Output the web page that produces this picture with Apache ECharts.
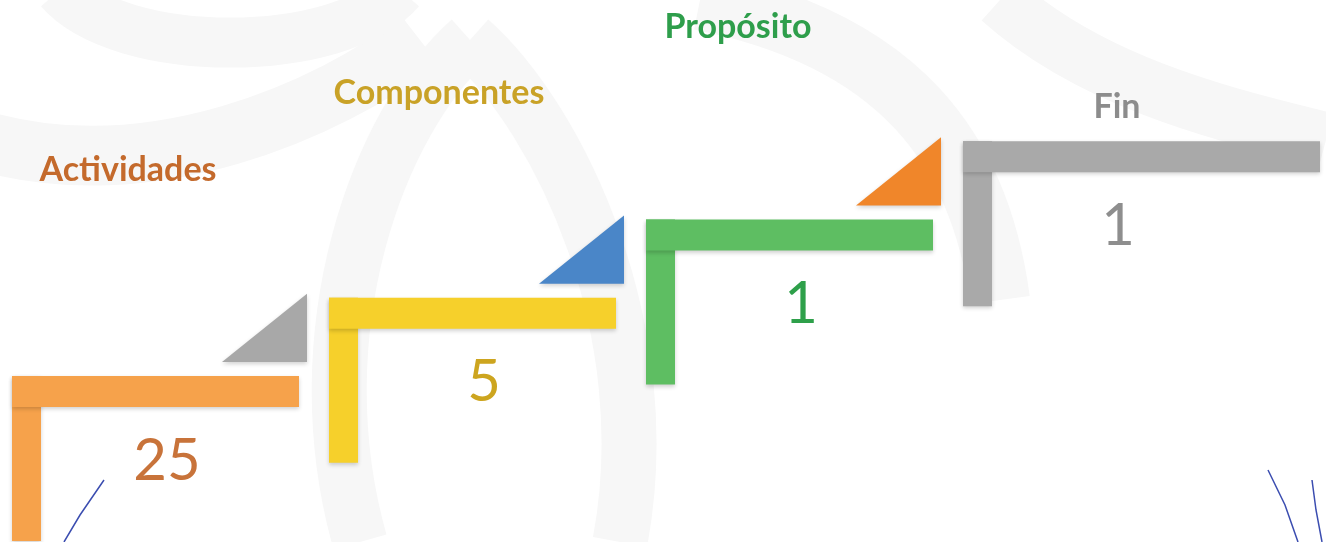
<!DOCTYPE html>
<html><head><meta charset="utf-8">
<script src="https://cdn.jsdelivr.net/npm/echarts@6/dist/echarts.min.js"></script>
<style>html,body{margin:0;padding:0;background:#fff}#c{width:1326px;height:542px}</style>
</head><body><div id="c"></div>
<script>
const categories = ['Actividades', 'Componentes', 'Propósito', 'Fin'];
const values = [25, 5, 1, 1];
const stepColors = ['#F6A24B', '#F6D02B', '#5EBE62', '#A9A9A9'];
const titleColors = ['#C46A2C', '#C9A227', '#2E9E4B', '#8C8C8C'];
const numberColors = ['#C8733A', '#CDA51F', '#2EA04A', '#8E8E8E'];
const triangleColors = ['#A8A8A8', '#4A86C8', '#F0862A'];

// layout (pixels) — styling only
const titleOffsets = [[116, -206], [110, -205], [92, -192], [154, -34]];
const T = 31, VLEN = 165;

const chart = echarts.init(document.getElementById('c'), null, {renderer: 'canvas'});
const data = categories.map((c, i) => [i, i, values[i]]);

function renderItem(params, api) {
  const i = api.value(0);
  const p = api.coord([i, api.value(1)]);
  const prev = api.coord([i - 1, api.value(1) - 1]);
  const next = api.coord([i + 1, api.value(1) + 1]);
  const last = i === categories.length - 1;
  const hlen = last ? (api.getWidth() - 6 - p[0]) : (next[0] - p[0] - 30);
  const shadow = {shadowBlur: 4, shadowColor: 'rgba(0,0,0,0.18)', shadowOffsetY: 2};
  const children = [
    {type: 'rect', shape: {x: p[0], y: p[1], width: T - 2, height: VLEN},
     style: Object.assign({fill: stepColors[i]}, shadow)},
    {type: 'rect', shape: {x: p[0], y: p[1], width: hlen, height: T},
     style: Object.assign({fill: stepColors[i]}, shadow)},
    {type: 'text', style: {x: p[0] + 155, y: p[1] + 85, text: String(api.value(2)),
     fill: numberColors[i], font: '400 58px Lato', align: 'center', verticalAlign: 'middle'}},
    {type: 'text', style: {x: p[0] + titleOffsets[i][0], y: p[1] + titleOffsets[i][1], text: categories[i],
     fill: titleColors[i], font: 'bold 34px Lato', align: 'center', verticalAlign: 'middle'}}
  ];
  if (i > 0) {
    const right = p[0] - 22, top = p[1] - 4, bottom = prev[1] - 14, left = right - 85;
    children.unshift({type: 'polygon', shape: {points: [[left, bottom], [right, top], [right, bottom]]},
      style: Object.assign({fill: triangleColors[i - 1]}, shadow)});
  }
  return {type: 'group', children};
}

const bg = '#F7F7F7';
chart.setOption({
  animation: false,
  backgroundColor: '#FFFFFF',
  grid: {left: 12, right: 46, top: 63, bottom: 166},
  xAxis: {type: 'value', min: 0, max: 4, show: false},
  yAxis: {type: 'value', min: 0, max: 4, show: false},
  graphic: [
    {type: 'bezierCurve', z: -10, shape: {x1: -20, y1: 140, x2: 420, y2: 40, cpx1: 150, cpy1: 190, cpx2: 330, cpy2: 110}, style: {stroke: bg, lineWidth: 60, fill: null}},
    {type: 'bezierCurve', z: -10, shape: {x1: 60, y1: -10, x2: 400, y2: -10, cpx1: 120, cpy1: 60, cpx2: 340, cpy2: 60}, style: {stroke: bg, lineWidth: 50, fill: null}},
    {type: 'bezierCurve', z: -10, shape: {x1: 360, y1: 542, x2: 470, y2: 40, cpx1: 300, cpy1: 330, cpx2: 380, cpy2: 120}, style: {stroke: bg, lineWidth: 55, fill: null}},
    {type: 'bezierCurve', z: -10, shape: {x1: 470, y1: 40, x2: 620, y2: 542, cpx1: 560, cpy1: 120, cpx2: 660, cpy2: 330}, style: {stroke: bg, lineWidth: 55, fill: null}},
    {type: 'bezierCurve', z: -10, shape: {x1: 700, y1: 0, x2: 1000, y2: 300, cpx1: 900, cpy1: 40, cpx2: 980, cpy2: 150}, style: {stroke: bg, lineWidth: 60, fill: null}},
    {type: 'bezierCurve', z: -10, shape: {x1: 1000, y1: 0, x2: 1326, y2: 140, cpx1: 1100, cpy1: 90, cpx2: 1250, cpy2: 120}, style: {stroke: bg, lineWidth: 55, fill: null}},
    {type: 'polyline', z: 5, shape: {points: [[104, 480], [80, 515], [64, 542]]}, style: {stroke: '#3B4DB0', lineWidth: 1.5, fill: null}},
    {type: 'polyline', z: 5, shape: {points: [[1268, 470], [1285, 505], [1298, 542]]}, style: {stroke: '#3B4DB0', lineWidth: 1.5, fill: null}},
    {type: 'polyline', z: 5, shape: {points: [[1312, 480], [1316, 510], [1322, 542]]}, style: {stroke: '#3B4DB0', lineWidth: 1.5, fill: null}}
  ],
  series: [{
    type: 'custom',
    renderItem,
    data,
    clip: false
  }]
});
</script>
</body></html>
